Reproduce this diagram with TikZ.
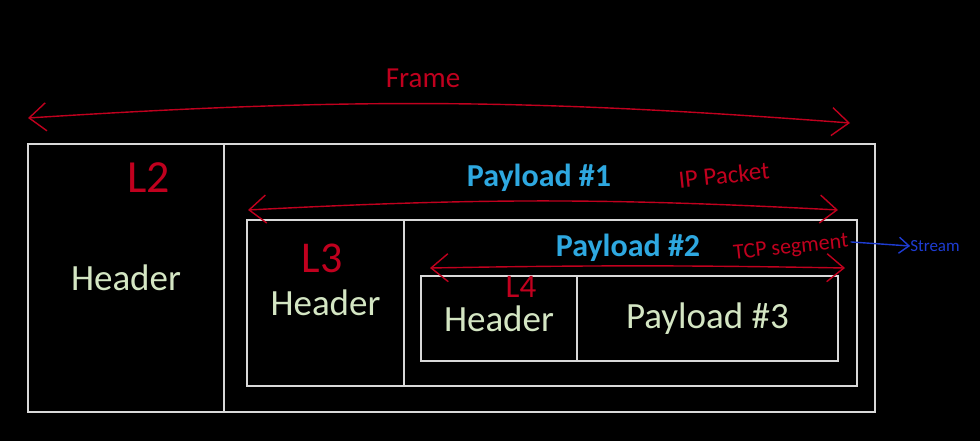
\documentclass[tikz,border=0pt]{standalone}
\usepackage{fontspec}
\setmainfont{Carlito}
\usepackage{tikz}
\usetikzlibrary{arrows.meta,positioning}
\definecolor{boxGray}{HTML}{D9D9D9}
\definecolor{hdrGreen}{HTML}{D4E6C3}
\definecolor{payBlue}{HTML}{2EA8E0}
\definecolor{penRed}{HTML}{C0001E}
\definecolor{penBlue}{HTML}{1E3CD2}

\begin{document}
\begin{tikzpicture}[x=1pt,y=-1pt,
    layerbox/.style={draw=boxGray,line width=2.5pt,inner sep=0pt,text=hdrGreen,
                     font=\fontsize{37}{42}\selectfont},
    paytitle/.style={text=payBlue,font=\fontsize{32}{36}\selectfont\bfseries},
    pen/.style={text=penRed,inner sep=0pt},
    penarrow/.style={draw=penRed,line width=1.4pt,
                     {Straight Barb[length=17pt,width=28pt]}-{Straight Barb[length=17pt,width=28pt]}}]
    \fill[black] (0,0) rectangle (980,441);
    \useasboundingbox (0,0) rectangle (980,441);

    % L2 frame
    \node[layerbox,minimum width=196pt,minimum height=268pt] (l2hdr) at (126,278) {Header};
    \node[layerbox,minimum width=651pt,minimum height=268pt] (l2pay) at (549.5,278) {};
    \node[paytitle] (pay1) at (539,178) {Payload \#1};

    % L3 packet
    \node[layerbox,minimum width=157pt,minimum height=166pt] (l3hdr) at (325.5,303) {\raisebox{-2pt}{Header}};
    \node[layerbox,minimum width=453pt,minimum height=166pt] (l3pay) at (630.5,303) {};
    \node[paytitle] (pay2) at (628,248) {Payload \#2};

    % L4 segment
    \node[layerbox,minimum width=156pt,minimum height=85pt] (l4hdr) at (499,318.5) {\raisebox{-2pt}{Header}};
    \node[layerbox,minimum width=261pt,minimum height=85pt] (l4pay) at (707.5,318.5) {\raisebox{-2pt}{Payload \#3}};

    % pen notes
    \node[pen,font=\fontsize{46}{48}\selectfont] (l2) at (149,178) {L2};
    \node[pen,font=\fontsize{44}{46}\selectfont] (l3) at (322,258) {L3};
    \node[pen,font=\fontsize{33}{35}\selectfont] (l4) at (521,287) {L4};
    \node[pen,font=\fontsize{29}{32}\selectfont] (frame) at (423,78) {Frame};
    \node[pen,font=\fontsize{25}{28}\selectfont,rotate=6] (ippkt) at (724,175) {IP Packet};
    \node[pen,font=\fontsize{22}{24}\selectfont,rotate=6] (tcpseg) at (791,248) {TCP segment};
    \node[text=penBlue,inner sep=0pt,font=\fontsize{17}{20}\selectfont] (stream) at (935,246) {Stream};

    \coordinate (frameL) at (28,118);
    \coordinate (frameR) at (850,123);
    \coordinate (ipL) at (248,210);
    \coordinate (ipR) at (838,210);
    \coordinate (tcpL) at (430,268);
    \coordinate (tcpR) at (845,268);

    \draw[penarrow] (frameL) to[bend left=4] (frameR);
    \draw[penarrow] (ipL) to[bend left=3] (ipR);
    \draw[penarrow] (tcpL) to[bend left=1] (tcpR);
    \draw[draw=penBlue,line width=1.4pt,-{Straight Barb[length=10pt,width=16pt]}]
        (tcpseg.east) ++(2pt,0) coordinate (tcpE) (tcpE) -- (stream.west);
\end{tikzpicture}
\end{document}
